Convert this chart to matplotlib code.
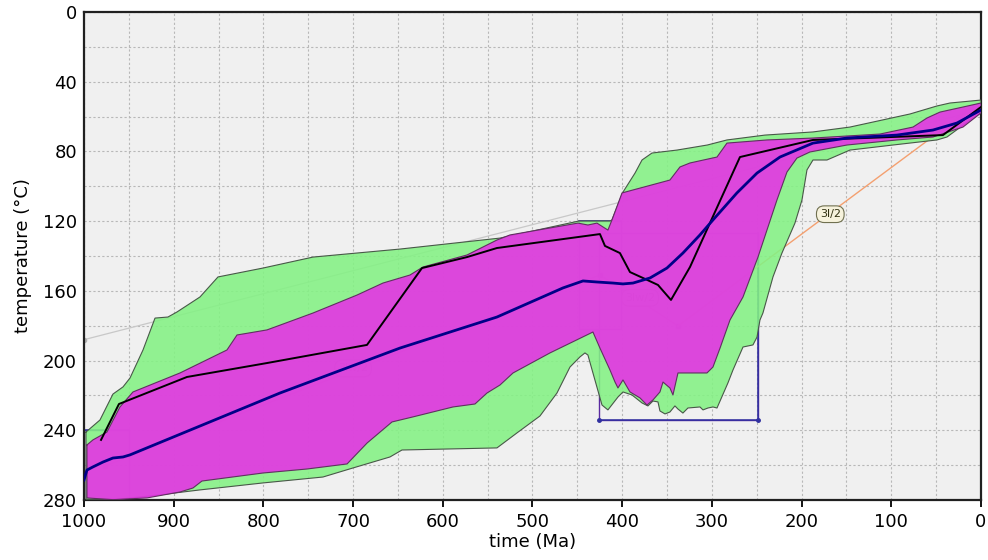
import numpy as np
import matplotlib.pyplot as plt
from matplotlib.ticker import MultipleLocator
from matplotlib.patches import Rectangle

# envelope of acceptable paths (green), time in Ma and temperature in degC
acc_top_t=[997.8,982.2,967.7,956.5,948.7,934.2,920.8,906.4,896.3,870.7,850.6,800.5,744.7,647.7,536.2,448.2,413.6,
           411.4,399.1,385.7,377.9,366.8,338.9,305.1,283.2,240.8,187.3,146.1,79.2,49.1,34.6,0.0]
acc_top_T=[241.0,234.1,219.2,215.1,210.0,193.9,175.6,175.0,172.1,163.5,152.0,146.9,140.6,136.0,129.7,119.9,119.9,
           119.3,103.3,92.4,84.9,80.9,79.2,76.3,73.4,70.6,68.8,66.0,58.5,53.9,52.2,50.5]
acc_bot_t=[997.8,959.9,926.4,870.7,800.5,733.6,700.1,658.9,645.5,539.6,517.3,491.7,472.7,458.2,447.1,441.5,438.2,
           432.6,422.5,415.9,404.7,399.1,389.1,377.9,371.3,365.7,360.1,357.9,352.3,346.8,341.2,337.8,332.3,326.7,
           313.3,309.9,304.4,298.8,294.3,282.1,276.5,265.3,254.2,249.7,246.4,243.1,231.9,221.9,207.4,199.6,194.0,
           187.3,171.7,146.1,98.1,49.1,37.9,0.0]
acc_bot_T=[279.6,279.4,277.7,274.2,270.2,266.8,261.6,255.3,251.3,250.1,241.5,231.8,218.6,203.7,197.9,195.6,196.8,
           207.1,225.5,228.3,220.9,218.0,219.7,224.3,226.0,223.2,223.7,228.9,230.6,229.5,226.0,227.8,230.1,227.2,
           226.6,228.3,227.2,226.6,227.2,212.8,205.4,192.2,191.0,186.5,176.7,172.7,152.0,138.3,121.1,107.9,90.6,
           84.9,84.9,79.2,76.3,73.4,71.7,57.4]

# envelope of good paths (magenta)
good_top_t=[996.7,990.0,974.4,959.9,945.4,893.0,840.6,829.4,796.0,744.7,695.7,666.7,636.6,622.1,573.0,539.6,525.1,
            449.3,438.2,428.1,415.9,411.4,400.2,388.0,346.8,335.6,324.4,294.3,283.2,238.6,187.3,112.6,75.8,60.2,
            45.7,20.1,0.0]
good_top_T=[248.4,245.5,241.0,226.6,218.0,207.1,193.9,185.3,182.4,172.7,162.4,155.5,150.9,146.3,139.4,130.8,127.9,
            121.1,122.2,121.1,125.1,119.3,103.8,102.1,96.4,88.9,86.6,83.2,75.2,73.4,72.3,70.0,66.0,60.8,
            57.4,54.5,52.2]
good_bot_t=[996.7,967.7,929.8,893.0,878.5,868.5,800.5,751.4,706.7,684.4,656.6,633.2,588.6,564.1,550.7,536.2,521.7,
            480.5,432.6,424.8,413.6,408.0,404.7,399.1,391.3,380.2,372.4,365.7,357.9,354.5,346.8,343.4,337.8,305.5,
            298.8,290.9,279.8,265.3,248.6,227.5,216.3,205.2,190.7,149.4,93.7,53.5,20.1,0.0]
good_bot_T=[278.8,279.8,278.8,275.4,273.1,269.1,264.5,262.2,259.3,247.3,235.2,232.3,226.6,224.9,218.6,214.0,207.1,
            195.6,183.6,192.8,205.4,212.3,215.7,211.1,218.0,221.4,225.5,222.6,218.0,212.3,215.7,219.7,207.1,207.1,
            203.7,192.8,176.7,163.5,140.6,107.9,91.8,83.8,80.3,76.3,73.4,71.7,66.0,57.9]

# best fit path (blue) and the black path
best_t=[1000.0,996.7,990.0,978.8,967.7,956.5,948.7,781.5,647.7,539.6,466.0,443.7,428.1,410.3,399.1,387.9,369.0,
        350.1,332.3,313.3,298.8,272.1,249.7,224.1,187.3,149.4,93.7,53.5,26.8,0.0]
best_T=[268.5,262.8,261.0,258.2,255.9,255.3,254.1,218.6,192.8,175.0,158.3,154.3,154.9,155.5,156.0,155.5,152.6,
        146.9,138.3,127.9,119.3,103.8,92.4,83.2,75.2,72.3,70.6,67.7,63.7,56.2]
blk_t=[981.0,961.0,885.2,796.0,684.5,623.2,573.0,539.6,424.8,419.2,402.5,391.3,376.8,360.1,345.6,324.4,302.2,
       268.7,187.3,42.4,0.0]
blk_T=[245.5,224.9,209.4,201.4,191.0,146.9,140.6,135.4,127.4,134.2,138.3,149.2,152.6,156.6,165.2,146.3,121.1,
       83.2,73.4,70.6,54.5]

# constraint boxes: t_old, t_young, T_low, T_high
box_t0=[1000,448,426]
box_t1=[950,401,249]
box_T0=[240,120,127]
box_T1=[280,182,234]

# model path nodes and segments
node_t=[976.6,424.8,337.8]
node_T=[260.5,150.9,180.1]
orange_t=[337.8,0.0]
orange_T=[180.1,51.0]
gray_t=[1000,0]
gray_T=[188,56]

fig=plt.figure(figsize=(9.88,5.6),dpi=100)
ax=fig.add_axes([0.085,0.1071,0.9079,0.8714])
ax.set_facecolor('#f0f0f0')
ax.set_xlim(1000,0)
ax.set_ylim(280,0)

ax.xaxis.set_major_locator(MultipleLocator(100))
ax.xaxis.set_minor_locator(MultipleLocator(50))
ax.yaxis.set_major_locator(MultipleLocator(40))
ax.yaxis.set_minor_locator(MultipleLocator(20))
ax.grid(True,which='both',color='#b8b8b8',linestyle=(0,(2,2)),linewidth=0.8,zorder=0)
ax.set_axisbelow(True)
ax.tick_params(axis='x',which='major',direction='out',length=5,width=1.3,labelsize=13,pad=4)
ax.tick_params(axis='y',which='major',length=0,labelsize=13,pad=5)
ax.tick_params(which='minor',length=0)
for s in ax.spines.values():
    s.set_linewidth(1.6)
    s.set_color('#202020')

ax.plot(gray_t,gray_T,color='#c8c8c8',lw=0.9,zorder=1)
ax.plot(gray_t[0],gray_T[0],'o',color='#b0b0b0',ms=3,zorder=1)

for i in range(len(box_t0)):
    ax.add_patch(Rectangle((box_t1[i],box_T0[i]),box_t0[i]-box_t1[i],box_T1[i]-box_T0[i],
                           fill=False,edgecolor='#5a2aa0',lw=1.0,zorder=2))
# blue edges of the boxes
ax.plot([box_t0[0],box_t1[0]],[box_T0[0],box_T0[0]],color='#3030a0',lw=1.1,zorder=2)
ax.plot([box_t0[1],box_t1[1]],[box_T0[1],box_T0[1]],color='#3030a0',lw=1.1,zorder=2)
ax.plot([box_t0[2],box_t1[2],box_t1[2]],[box_T1[2],box_T1[2],box_T0[2]],color='#3030a0',lw=1.1,zorder=2)
ax.plot([box_t0[2],box_t1[2]],[box_T1[2],box_T1[2]],'o',color='#3030a0',ms=2.5,zorder=2)

ax.plot(node_t,node_T,color='#e070b0',lw=0.9,zorder=2)
ax.plot(node_t,node_T,'s',color='#c040c0',ms=3,zorder=2)
ax.plot(orange_t,orange_T,color='#f4a070',lw=1.0,zorder=2)

lab_style=dict(boxstyle='round,pad=0.3,rounding_size=0.7',fc='#f6f2dc',ec='#707050',lw=0.8)
ax.text(700,204.5,'3lw/2',fontsize=8,ha='center',va='center',color='#404020',bbox=lab_style,zorder=2)
ax.text(380,164,'3lw/2',fontsize=8,ha='center',va='center',color='#404020',bbox=lab_style,zorder=2)
ax.text(168,116,'3l/2',fontsize=8,ha='center',va='center',color='#303010',bbox=lab_style,zorder=2)

acc_t=acc_top_t+acc_bot_t[::-1]
acc_T=acc_top_T+acc_bot_T[::-1]
ax.fill(acc_t,acc_T,facecolor='#84f284',alpha=0.88,edgecolor='none',zorder=3)
ax.plot(acc_t+[acc_t[0]],acc_T+[acc_T[0]],color='#485848',lw=0.8,zorder=3)

good_t=good_top_t+good_bot_t[::-1]
good_T=good_top_T+good_bot_T[::-1]
ax.fill(good_t,good_T,facecolor='#e534e5',alpha=0.9,edgecolor='none',zorder=4)
ax.plot(good_t+[good_t[0]],good_T+[good_T[0]],color='#603060',lw=0.8,zorder=4)

ax.plot(blk_t,blk_T,color='black',lw=1.4,zorder=5)
ax.plot(best_t,best_T,color='#000088',lw=2.0,zorder=6)

ax.set_xlabel('time (Ma)',fontsize=13,labelpad=2)
ax.set_ylabel('temperature (°C)',fontsize=13,labelpad=8)

fig.savefig('out.png',dpi=100)
